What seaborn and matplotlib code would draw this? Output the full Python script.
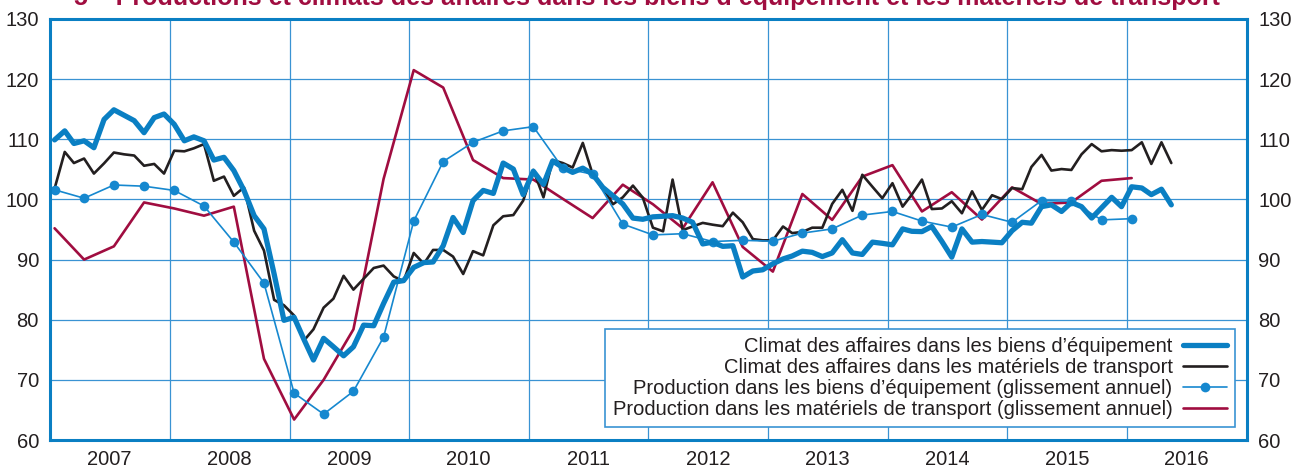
import matplotlib
matplotlib.use("Agg")
import matplotlib.pyplot as plt
import matplotlib.dates as mdates
import matplotlib.ticker as mticker
import pandas as pd
import seaborn as sns

# monthly business climate indices, Jan 2007 -> May 2016
climat_biens = [
    109.9, 111.4, 109.3, 109.75, 108.6, 113.3, 114.9, 114.0, 113.1, 111.1, 113.6, 114.2,
    112.5, 109.75, 110.4, 109.75, 106.55, 107.0, 104.8, 101.5, 97.3, 95.1, 87.6, 79.9,
    80.4, 76.6, 73.3, 76.9, 75.5, 74.0, 75.5, 79.1, 79.0, 82.7, 86.25, 86.5,
    88.7, 89.5, 89.6, 92.3, 97.0, 94.5, 99.8, 101.5, 101.0, 106.05, 105.05, 100.8,
    104.7, 102.5, 106.4, 105.3, 104.5, 105.2, 104.2, 102.0, 100.6, 99.25, 96.9, 96.7,
    97.1, 97.2, 97.3, 96.9, 96.2, 92.6, 92.9, 92.2, 92.3, 87.1, 88.1, 88.3,
    89.3, 90.1, 90.6, 91.4, 91.2, 90.5, 91.1, 93.3, 91.1, 90.85, 92.9, 92.7,
    92.45, 95.1, 94.7, 94.65, 95.5, 93.0, 90.4, 95.1, 92.9, 93.0, 92.9, 92.8,
    94.8, 96.2, 96.05, 98.8, 99.1, 98.0, 99.5, 98.8, 96.9, 98.6, 100.35, 98.8,
    102.1, 101.9, 100.8, 101.7, 99.1,
]
climat_transport = [
    101.8, 107.9, 106.05, 106.8, 104.3, 106.0, 107.8, 107.5, 107.3, 105.6, 105.9, 104.3,
    108.1, 108.0, 108.5, 109.2, 103.1, 103.8, 100.6, 102.0, 94.8, 91.5, 83.3, 82.4,
    80.7, 76.6, 78.4, 82.0, 83.5, 87.3, 85.0, 86.8, 88.6, 89.0, 87.2, 86.4,
    91.1, 89.3, 91.6, 91.6, 90.5, 87.6, 91.4, 90.7, 95.7, 97.2, 97.4, 99.8,
    104.9, 100.35, 106.55, 106.05, 105.3, 109.4, 104.2, 101.9, 99.2, 100.35, 102.3, 100.3,
    95.3, 94.7, 103.3, 94.9, 95.5, 96.1, 95.8, 95.55, 97.8, 96.2, 93.4, 93.2,
    93.2, 95.5, 94.4, 94.6, 95.3, 95.3, 99.25, 101.6, 98.1, 104.1, 102.1, 100.2,
    102.7, 98.8, 100.8, 103.3, 98.4, 98.5, 99.7, 97.7, 101.35, 98.25, 100.7, 100.05,
    101.9, 101.7, 105.4, 107.4, 104.8, 105.05, 104.9, 107.5, 109.2, 108.0, 108.2, 108.1,
    108.2, 109.5, 105.9, 109.5, 106.05,
]
# quarterly production, year-on-year, Q1 2007 -> Q1 2016
prod_biens = [
    101.6, 100.2, 102.4, 102.2, 101.5, 98.9, 92.9, 86.1, 67.8, 64.3, 68.1, 77.1,
    96.4, 106.3, 109.5, 111.4, 112.1, 105.2, 104.2, 95.9, 94.1, 94.3, 93.0, 93.2,
    93.05, 94.4, 95.1, 97.4, 98.0, 96.4, 95.4, 97.5, 96.2, 99.8, 99.7, 96.6, 96.8,
]
prod_transport = [
    95.2, 90.0, 92.2, 99.5, 98.5, 97.3, 98.8, 73.5, 63.4, 70.0, 78.4, 103.4,
    121.5, 118.6, 106.55, 103.55, 103.3, 100.1, 96.9, 102.45, 99.2, 95.2, 102.85, 92.1,
    88.0, 100.9, 96.6, 103.8, 105.7, 98.0, 101.2, 96.65, 102.0, 99.25, 99.5, 103.1, 103.55,
]
labels = [
    "Climat des affaires dans les biens d\u2019équipement",
    "Climat des affaires dans les matériels de transport",
    "Production dans les biens d\u2019équipement (glissement annuel)",
    "Production dans les matériels de transport (glissement annuel)",
]
titre = ("5 \u2013 Productions et climats des affaires dans les biens d\u2019équipement "
         "et les matériels de transport")

mois = pd.date_range("2007-01-01", periods=len(climat_biens), freq="MS") + pd.Timedelta(days=14)
trim = pd.date_range("2007-01-01", periods=len(prod_biens), freq="QS") + pd.Timedelta(days=14)
df_m = pd.DataFrame({"date": mois, "biens": climat_biens, "transport": climat_transport})
df_q = pd.DataFrame({"date": trim, "biens": prod_biens, "transport": prod_transport})

bleu = "#0a7fc3"
bleu2 = "#1688cf"
grille = "#3a93d3"
rouge = "#a00d40"
noir = "#231f20"

sns.set_style("white")
plt.rcParams["font.family"] = ["Liberation Sans", "DejaVu Sans"]

fig = plt.figure(figsize=(13.02, 4.68), dpi=100)
ax = fig.add_axes([50 / 1302, 28 / 468, 1197 / 1302, 421 / 468])

sns.lineplot(data=df_q, x="date", y="transport", ax=ax, color=rouge, lw=1.9, label=labels[3])
sns.lineplot(data=df_m, x="date", y="transport", ax=ax, color=noir, lw=1.9, label=labels[1])
sns.lineplot(data=df_q, x="date", y="biens", ax=ax, color=bleu2, lw=1.2, marker="o",
             markersize=7, markeredgewidth=0, label=labels[2])
sns.lineplot(data=df_m, x="date", y="biens", ax=ax, color=bleu, lw=3.8, label=labels[0])

ax.set_xlim(pd.Timestamp("2007-01-01"), pd.Timestamp("2017-01-01"))
ax.set_ylim(60, 130)
ax.set_xlabel("")
ax.set_ylabel("")

ax.set_yticks(range(60, 131, 10))
ax.xaxis.set_major_locator(mdates.YearLocator())
ax.xaxis.set_major_formatter(mticker.NullFormatter())
ax.xaxis.set_minor_locator(mdates.MonthLocator(bymonth=7))
ax.xaxis.set_minor_formatter(mdates.DateFormatter("%Y"))
ax.tick_params(axis="x", which="both", length=0, labelsize=14.5, pad=7, colors="#231f20")
ax.tick_params(axis="y", length=0, labelsize=14.5, labelright=True, pad=8, colors="#231f20")

ax.grid(True, which="major", color=grille, lw=0.9)
for s in ax.spines.values():
    s.set_visible(True)
    s.set_color(bleu)
    s.set_linewidth(2.2)

h, l = ax.get_legend_handles_labels()
order = [3, 1, 2, 0]
leg = ax.legend([h[i] for i in order], [l[i] for i in order], loc="lower right",
                bbox_to_anchor=(0.99, 0.031), borderaxespad=0, markerfirst=False,
                fontsize=14.5, handlelength=2.2, handletextpad=0.5, labelspacing=0.1,
                fancybox=False, framealpha=1, borderpad=0.4)
leg.get_frame().set_edgecolor(grille)
leg.get_frame().set_linewidth(1.2)
for t in leg.get_texts():
    t.set_color("#231f20")

fig.text(0.497, 1 - 5 / 468, titre, ha="center", va="baseline", color=rouge,
         fontsize=18, fontweight="bold")

fig.savefig("out.png", dpi=100)
